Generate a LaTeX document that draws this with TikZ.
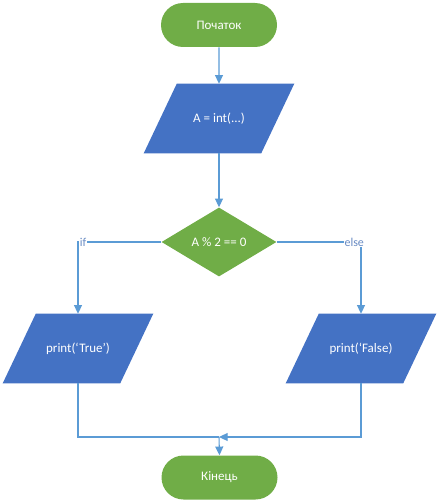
\documentclass[tikz,border=0pt]{standalone}
\usepackage{fontspec}
\setmainfont{Carlito}
\usetikzlibrary{shapes.geometric,shapes.misc,arrows.meta,backgrounds}
\definecolor{termgreen}{HTML}{70AD47}
\definecolor{iobblue}{HTML}{4472C4}
\definecolor{flowline}{HTML}{5B9BD5}
\definecolor{branchtxt}{HTML}{6A8CC4}
\tikzset{
  base/.style={text=white, font=\fontsize{9.75}{11}\selectfont, inner sep=0pt, draw=none},
  terminal/.style={base, rounded rectangle, fill=termgreen,
    minimum width=87pt, minimum height=33pt},
  % bounding box of a parallelogram; the slanted body is filled behind it
  iobox/.style={base, rectangle, minimum width=112.5pt, minimum height=51.75pt},
  decision/.style={base, diamond, fill=termgreen,
    minimum width=86.25pt, minimum height=51.75pt},
  flow/.style={draw=flowline, line width=0.8pt},
  arrowed/.style={flow, -{Triangle[length=6.5pt,width=6pt,fill=flowline]}},
  branch/.style={fill=white, text=branchtxt, font=\fontsize{9}{10}\selectfont,
    inner sep=0.8pt}
}
% slanted input/output body for a node of style iobox (slant 33px)
\newcommand\iopara[1]{%
  \fill[iobblue] (#1.south west) -- ([xshift=24.75pt]#1.north west)
    -- (#1.north east) -- ([xshift=-24.75pt]#1.south east) -- cycle;}
\begin{document}
\begin{tikzpicture}[x=0.75pt, y=-0.75pt]
  \useasboundingbox (0,0) rectangle (438,503);

  % shapes
  \node[terminal] (start) at (219,25) {Початок};
  \node[iobox] (input) at (219,118.5) {A = int(...)};
  \node[decision] (cond) at (219,242) {A \% 2 == 0};
  \node[iobox] (outtrue) at (78,348.5) {print(‘True’)};
  \node[iobox] (outfalse) at (361,348.5) {print(‘False)};
  \node[terminal] (stop) at (219.5,477.5) {Кінець};
  \coordinate (join) at (219,437);

  \begin{scope}[on background layer]
    \iopara{input}
    \iopara{outtrue}
    \iopara{outfalse}
  \end{scope}

  % connectors
  \draw[arrowed] (start) -- (input);
  \draw[arrowed] (input) -- (cond);
  \draw[arrowed] (cond.west) -| node[branch, pos=0.47] (lblif) {if} (outtrue.north);
  \draw[arrowed] (cond.east) -| node[branch, pos=0.46] (lblelse) {else} (outfalse.north);
  \draw[flow] (outtrue.south) |- (join);
  \draw[arrowed] (outfalse.south) |- (join);
  \draw[arrowed] (join) -- (stop.north);
\end{tikzpicture}
\end{document}
